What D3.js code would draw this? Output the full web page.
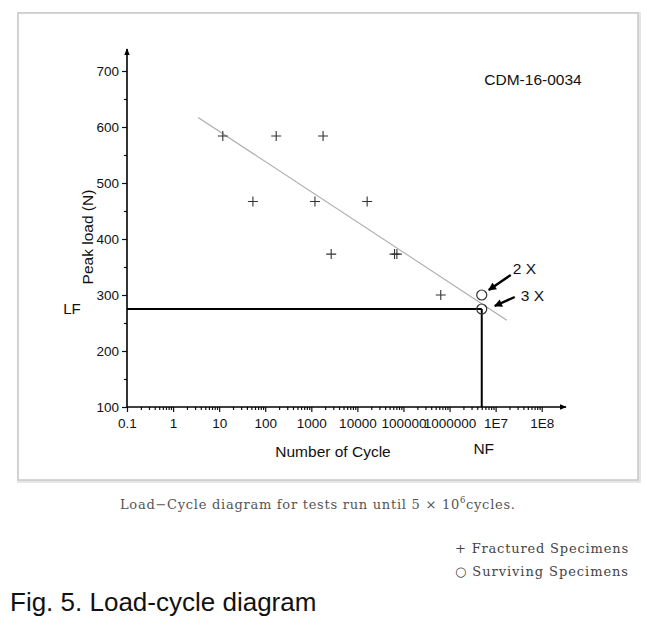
<!DOCTYPE html>
<html>
<head>
<meta charset="utf-8">
<script src="https://cdn.jsdelivr.net/npm/d3@7/dist/d3.min.js"></script>
<style>
  html, body { margin: 0; padding: 0; background: #fff; }
  svg { display: block; }
</style>
</head>
<body>
<svg id="chart" width="647" height="635"></svg>
<script>
// ---- data ----
const xTickValues = [0.1, 1, 10, 100, 1000, 10000, 100000, 1000000, 1e7, 1e8];
const xTickLabels = ["0.1", "1", "10", "100", "1000", "10000", "100000", "1000000", "1E7", "1E8"];
const yTickValues = [100, 200, 300, 400, 500, 600, 700];
const yMinorValues = [150, 250, 350, 450, 550, 650];

const fracturedCycles = [12, 173, 1800, 54, 1200, 16300, 2700, 64000, 72000, 645000];
const fracturedLoads  = [584, 584, 584, 467, 467, 467, 373, 373, 373, 300];

const survivingCycles = [5e6, 5e6];
const survivingLoads  = [300, 275];
const survivingLabels = ["2 X", "3 X"];

const trendCycles = [3.5, 1.75e7];
const trendLoads  = [617, 255];

const limitCycle = 5e6;   // NF
const limitLoad  = 275;   // LF

// ---- layout ----
const svg = d3.select("#chart");
const font = "'Liberation Sans', Arial, Helvetica, sans-serif";
const serif = "'DejaVu Serif', 'Liberation Serif', 'Times New Roman', serif";

// frame
svg.append("rect").attr("x", 19).attr("y", 14).attr("width", 620).attr("height", 467)
  .attr("fill", "none").attr("stroke", "#e6e6e6").attr("stroke-width", 4);
svg.append("rect").attr("x", 18).attr("y", 13).attr("width", 620).attr("height", 467)
  .attr("fill", "#fff").attr("stroke", "#c8c8c8").attr("stroke-width", 1.5);

const x = d3.scaleLog().domain([0.1, 1e8]).range([127, 541.7]);
const y = d3.scaleLinear().domain([100, 700]).range([407, 71]);

const defs = svg.append("defs");
defs.append("marker").attr("id", "ax").attr("viewBox", "0 0 10 10")
  .attr("refX", 9).attr("refY", 5).attr("markerWidth", 7).attr("markerHeight", 7)
  .attr("markerUnits", "userSpaceOnUse").attr("orient", "auto")
  .append("path").attr("d", "M0,1 L10,5 L0,9 Z").attr("fill", "#000");
defs.append("marker").attr("id", "arr").attr("viewBox", "0 0 10 10")
  .attr("refX", 9).attr("refY", 5).attr("markerWidth", 9).attr("markerHeight", 8)
  .attr("markerUnits", "userSpaceOnUse").attr("orient", "auto")
  .append("path").attr("d", "M0,0 L10,5 L0,10 Z").attr("fill", "#000");

// y axis
svg.append("g").attr("transform", `translate(${x(0.1)},0)`)
  .call(d3.axisLeft(y).tickValues(yTickValues).tickSize(5).tickPadding(3).tickFormat(d3.format("d")));
svg.append("g").attr("transform", `translate(${x(0.1)},0)`)
  .call(d3.axisLeft(y).tickValues(yMinorValues).tickSize(3).tickFormat(""));

// x axis
svg.append("g").attr("transform", `translate(0,${y(100)})`)
  .call(d3.axisBottom(x).tickValues(xTickValues).tickSize(5).tickPadding(6)
    .tickFormat((d, i) => xTickLabels[i]));
const xMinor = [];
xTickValues.slice(0, -1).forEach(v => { for (let k = 2; k <= 9; k++) xMinor.push(v * k); });
svg.append("g").attr("transform", `translate(0,${y(100)})`)
  .call(d3.axisBottom(x).tickValues(xMinor).tickSize(3).tickFormat(""));

svg.selectAll(".domain").remove();
svg.selectAll(".tick line").attr("stroke", "#111").attr("stroke-width", 1.2);
svg.selectAll(".tick text").attr("font-family", font).attr("font-size", 13.5).attr("fill", "#111");

// axis lines with arrows
svg.append("line").attr("x1", x(0.1)).attr("x2", x(0.1)).attr("y1", y(100)).attr("y2", 49)
  .attr("stroke", "#000").attr("stroke-width", 1.6).attr("marker-end", "url(#ax)");
svg.append("line").attr("x1", x(0.1)).attr("x2", 566).attr("y1", y(100)).attr("y2", y(100))
  .attr("stroke", "#000").attr("stroke-width", 1.6).attr("marker-end", "url(#ax)");

// trend line
svg.append("line")
  .attr("x1", x(trendCycles[0])).attr("y1", y(trendLoads[0]))
  .attr("x2", x(trendCycles[1])).attr("y2", y(trendLoads[1]))
  .attr("stroke", "#b0aaaa").attr("stroke-width", 1.1);

// LF / NF lines
svg.append("line").attr("x1", x(0.1)).attr("x2", x(limitCycle))
  .attr("y1", y(limitLoad)).attr("y2", y(limitLoad))
  .attr("stroke", "#000").attr("stroke-width", 2);
svg.append("line").attr("x1", x(limitCycle)).attr("x2", x(limitCycle))
  .attr("y1", y(limitLoad)).attr("y2", y(100))
  .attr("stroke", "#000").attr("stroke-width", 2);

// fractured specimens (+)
const fractured = fracturedCycles.map((c, i) => ({ c, l: fracturedLoads[i] }));
svg.append("g").selectAll("path").data(fractured).join("path")
  .attr("transform", d => `translate(${x(d.c)},${y(d.l)})`)
  .attr("d", "M-5,0 H5 M0,-5 V5")
  .attr("stroke", "#333").attr("stroke-width", 1.1).attr("fill", "none");

// surviving specimens (o)
const surviving = survivingCycles.map((c, i) => ({ c, l: survivingLoads[i], t: survivingLabels[i] }));
svg.append("g").selectAll("circle").data(surviving).join("circle")
  .attr("cx", d => x(d.c)).attr("cy", d => y(d.l)).attr("r", 5)
  .attr("fill", "none").attr("stroke", "#333").attr("stroke-width", 1.2);

// annotation arrows + labels
const annot = [
  { dx1: 29, dy1: -20, dx2: 7, dy2: -5, tx: 31, ty: -26 },
  { dx1: 33, dy1: -12, dx2: 13, dy2: -3, tx: 39, ty: -13 }
];
surviving.forEach((d, i) => {
  const a = annot[i], cx = x(d.c), cy = y(d.l);
  svg.append("line").attr("x1", cx + a.dx1).attr("y1", cy + a.dy1)
    .attr("x2", cx + a.dx2).attr("y2", cy + a.dy2)
    .attr("stroke", "#000").attr("stroke-width", 2.4).attr("marker-end", "url(#arr)");
  svg.append("text").attr("x", cx + a.tx).attr("y", cy + a.ty).attr("dy", "0.35em")
    .attr("font-family", font).attr("font-size", 15.5).attr("fill", "#111").text(d.t);
});

// labels
svg.append("text").attr("transform", `translate(88,${y(400) - 2}) rotate(-90)`)
  .attr("text-anchor", "middle").attr("dy", "0.35em")
  .attr("font-family", font).attr("font-size", 15.5).attr("fill", "#111").text("Peak load (N)");
svg.append("text").attr("x", 72).attr("y", y(limitLoad)).attr("dy", "0.35em")
  .attr("text-anchor", "middle")
  .attr("font-family", font).attr("font-size", 15).attr("fill", "#111").text("LF");
svg.append("text").attr("x", 333).attr("y", 452).attr("dy", "0.35em").attr("text-anchor", "middle")
  .attr("font-family", font).attr("font-size", 15.5).attr("fill", "#111").text("Number of Cycle");
svg.append("text").attr("x", x(limitCycle) + 2).attr("y", 449).attr("dy", "0.35em").attr("text-anchor", "middle")
  .attr("font-family", font).attr("font-size", 15.5).attr("fill", "#111").text("NF");
svg.append("text").attr("x", 533).attr("y", 80).attr("dy", "0.35em").attr("text-anchor", "middle")
  .attr("font-family", font).attr("font-size", 15.5).attr("fill", "#111").text("CDM-16-0034");

// helper: stretch a text to a target width with letter-spacing
function fitWidth(sel, target) {
  const w = sel.node().getComputedTextLength();
  const n = sel.text().length;
  if (n > 1) sel.attr("letter-spacing", ((target - w) / (n - 1)).toFixed(2));
}

// caption below frame
const cap = svg.append("text").attr("x", 120).attr("y", 509)
  .attr("font-family", serif).attr("font-size", 13).attr("fill", "#555");
cap.append("tspan").text("Load\u2212Cycle diagram for tests run until 5 \u00d7 10");
cap.append("tspan").attr("font-size", 8.5).attr("dy", -6).text("6");
cap.append("tspan").attr("dy", 6).text("cycles.");
fitWidth(cap, 395);

// legend
const lg1 = svg.append("text").attr("x", 455).attr("y", 553)
  .attr("font-family", serif).attr("font-size", 13).attr("fill", "#444").text("+ Fractured Specimens");
fitWidth(lg1, 173);
const lg2 = svg.append("text").attr("x", 455).attr("y", 576)
  .attr("font-family", serif).attr("font-size", 13).attr("fill", "#444").text("\u25cb Surviving Specimens");
fitWidth(lg2, 173);

// figure title
svg.append("text").attr("x", 10).attr("y", 611)
  .attr("font-family", font).attr("font-size", 26).attr("fill", "#111").text("Fig. 5. Load-cycle diagram");
</script>
</body>
</html>
